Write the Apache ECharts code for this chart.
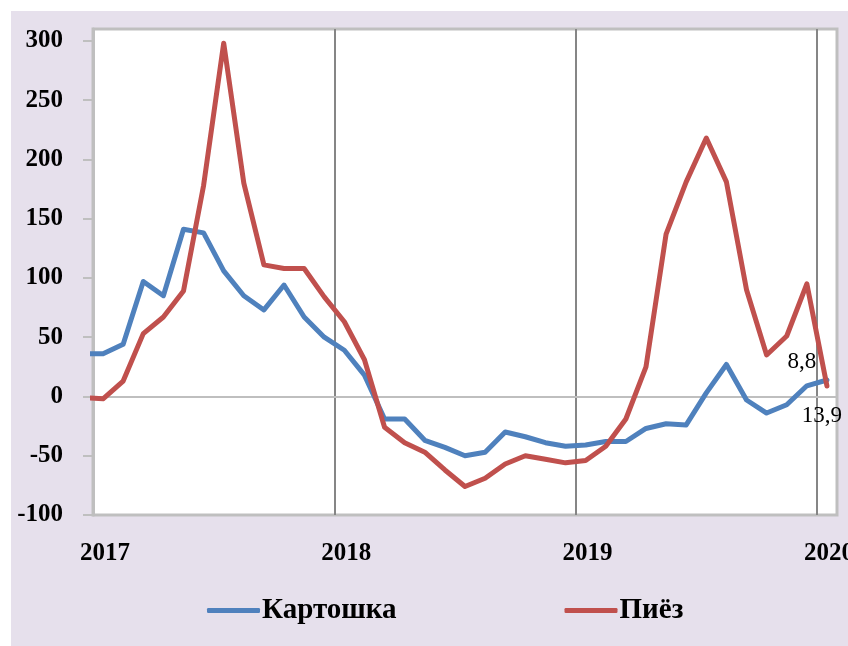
<!DOCTYPE html>
<html>
<head>
<meta charset="utf-8">
<script src="https://cdn.jsdelivr.net/npm/echarts@6/dist/echarts.min.js"></script>
<style>
    html, body { margin: 0; padding: 0; background: #fff; overflow: hidden; }
    #chart { position: absolute; left: 11px; top: 11px; width: 837px; height: 635px; }
</style>
</head>
<body>
<div id="chart"></div>
<script>
var months = ['2016-12',
    '2017-01', '2017-02', '2017-03', '2017-04', '2017-05', '2017-06',
    '2017-07', '2017-08', '2017-09', '2017-10', '2017-11', '2017-12',
    '2018-01', '2018-02', '2018-03', '2018-04', '2018-05', '2018-06',
    '2018-07', '2018-08', '2018-09', '2018-10', '2018-11', '2018-12',
    '2019-01', '2019-02', '2019-03', '2019-04', '2019-05', '2019-06',
    '2019-07', '2019-08', '2019-09', '2019-10', '2019-11', '2019-12',
    '2020-01'];
var potato = [36,
    36, 44, 97, 85, 141, 138, 106, 85, 73, 94, 67, 50,
    39, 18, -19, -19, -37, -43, -50, -47, -30, -34, -39, -42,
    -41, -38, -38, -27, -23, -24, 3, 27, -3, -14, -7, 9,
    13.9];
var onion = [-1,
    -2, 13, 53, 67, 89, 178, 298, 180, 111, 108, 108, 84,
    63, 31, -26, -39, -47, -62, -76, -69, -57, -50, -53, -56,
    -54, -42, -19, 25, 137, 181, 218, 181, 90, 35, 51, 95,
    8.8];
var names = ['Картошка', 'Пиёз'];
var yTicks = [-100, -50, 0, 50, 100, 150, 200, 250, 300];
var startYear = 2017;

var font = 'Liberation Serif';

// month string -> position on the x axis (middle of the month)
function monthPos(m) {
    var p = m.split('-');
    return (+p[0] - startYear) * 12 + (+p[1] - 1) + 0.5;
}

function buildData(values, label) {
    return values.map(function (v, i) {
        var item = {value: [monthPos(months[i]), v]};
        if (i === values.length - 1) {
            item.label = label;
        }
        return item;
    });
}

function fmt(p) {
    return String(p.value[1]).replace('.', ',');
}

var labelStyle = {
    show: true,
    fontFamily: font,
    fontSize: 23,
    color: '#000',
    formatter: fmt
};

var option = {
    backgroundColor: '#E6E0EC',
    animation: false,
    grid: {
        left: 82,
        top: 18,
        right: 11,
        bottom: 131,
        outerBoundsMode: 'none',
        show: true,
        backgroundColor: '#fff',
        borderColor: '#BFBFBF',
        borderWidth: 3
    },
    legend: {
        left: 191,
        top: 580,
        itemWidth: 53,
        itemHeight: 5,
        itemGap: 168,
        icon: 'roundRect',
        textStyle: {
            fontFamily: font,
            fontWeight: 'bold',
            fontSize: 29,
            color: '#000',
            padding: [0, 0, 0, -3]
        },
        data: names
    },
    xAxis: {
        type: 'value',
        min: 0,
        max: 37,
        interval: 12,
        axisLine: {show: false, onZero: false},
        axisTick: {show: false},
        axisLabel: {
            margin: 26,
            showMaxLabel: false,
            fontFamily: font,
            fontWeight: 'bold',
            fontSize: 25,
            color: '#000',
            padding: [0, 0, 0, 24],
            formatter: function (v) { return startYear + v / 12; }
        },
        splitLine: {
            show: true,
            showMinLine: false,
            showMaxLine: false,
            lineStyle: {color: '#868686', width: 2}
        }
    },
    yAxis: {
        type: 'value',
        min: -100,
        max: 310,
        interval: 50,
        axisLine: {show: true, lineStyle: {color: '#BFBFBF', width: 3}},
        axisTick: {show: true, length: 10, lineStyle: {color: '#BFBFBF', width: 2}, customValues: yTicks},
        axisLabel: {
            margin: 30,
            fontFamily: font,
            fontWeight: 'bold',
            fontSize: 25,
            color: '#000',
            customValues: yTicks
        },
        splitLine: {show: false}
    },
    series: [
        {
            name: names[0],
            type: 'line',
            showSymbol: true,
            symbol: 'circle',
            symbolSize: 1,
            color: '#4F81BD',
            lineStyle: {width: 5, join: 'round', cap: 'round'},
            emphasis: {disabled: true},
            z: 3,
            data: buildData(potato, Object.assign({}, labelStyle, {position: 'bottom', offset: [-5, 19]})),
            markLine: {
                silent: true,
                symbol: 'none',
                label: {show: false},
                lineStyle: {color: '#BFBFBF', width: 2, type: 'solid'},
                z: 1,
                data: [{yAxis: 0}]
            }
        },
        {
            name: names[1],
            type: 'line',
            showSymbol: true,
            symbol: 'circle',
            symbolSize: 1,
            color: '#C0504D',
            lineStyle: {width: 5, join: 'round', cap: 'round'},
            emphasis: {disabled: true},
            z: 3,
            data: buildData(onion, Object.assign({}, labelStyle, {position: 'top', offset: [-25, -7]}))
        }
    ]
};

var myChart = echarts.init(document.getElementById('chart'));
myChart.setOption(option);
</script>
</body>
</html>
